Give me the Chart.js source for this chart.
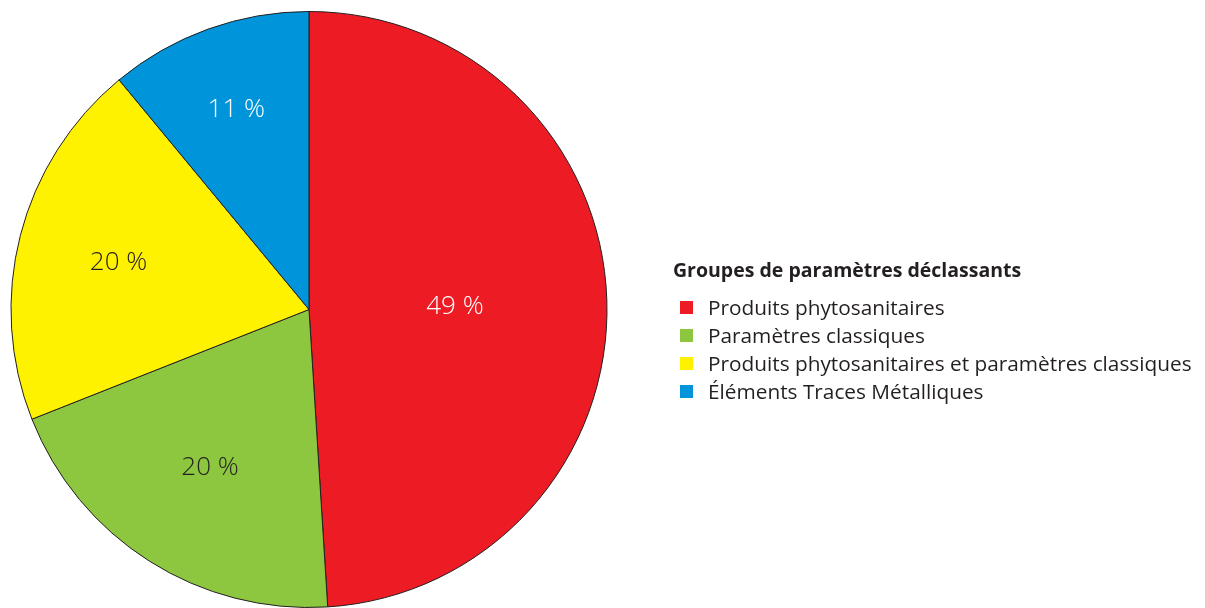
<!DOCTYPE html>
<html lang="fr">
<head>
<meta charset="utf-8">
<script src="https://cdn.jsdelivr.net/npm/chart.js@4/dist/chart.umd.min.js"></script>
<style>
  html, body { margin: 0; padding: 0; background: #fff; }
  #wrap { position: relative; width: 1205px; height: 608px; }
  #legend {
    position: absolute; left: 673px; top: 257px;
    font-family: "Open Sans", "Noto Sans", sans-serif; color: #231f20;
  }
  #legend .title { font-weight: bold; font-size: 19.5px; line-height: 26px; margin-bottom: 10px; }
  #legend ul { list-style: none; margin: 0; padding: 0 0 0 7px; }
  #legend li { font-size: 20.8px; line-height: 28px; display: flex; align-items: center; }
  #legend li span.box { width: 13px; height: 13px; margin-right: 15px; display: inline-block; }
</style>
</head>
<body>
<div id="wrap">
  <canvas id="pieChart" width="1205" height="608"></canvas>
  <div id="legend"></div>
</div>
<script>
// Groupes de paramètres déclassants - share of stations (%)
const groupLabels = [
  'Produits phytosanitaires',
  'Paramètres classiques',
  'Produits phytosanitaires et paramètres classiques',
  'Éléments Traces Métalliques'
];
const groupShares = [49, 20, 20, 11];

const sliceColors = ['#ed1c24', '#8dc63f', '#fff200', '#0095da'];
const labelColors = ['#ffffff', '#231f20', '#231f20', '#ffffff'];
// how far out along the radius each percentage sits
const labelRadius = [0.49, 0.62, 0.66, 0.72];

// percentage text inside each slice
const sliceLabels = {
  id: 'sliceLabels',
  afterDatasetsDraw(chart) {
    const ctx = chart.ctx;
    const meta = chart.getDatasetMeta(0);
    ctx.save();
    ctx.font = '300 26px "Open Sans", "Noto Sans", sans-serif';
    ctx.textAlign = 'center';
    ctx.textBaseline = 'middle';
    meta.data.forEach((arc, i) => {
      const p = arc.getProps(['x', 'y', 'startAngle', 'endAngle', 'outerRadius'], true);
      const mid = (p.startAngle + p.endAngle) / 2;
      const r = p.outerRadius * labelRadius[i];
      ctx.fillStyle = labelColors[i];
      ctx.fillText(groupShares[i] + ' %', p.x + Math.cos(mid) * r, p.y + Math.sin(mid) * r + 2);
    });
    ctx.restore();
  }
};

const ctxPie = document.getElementById('pieChart').getContext('2d');
const pieChart = new Chart(ctxPie, {
  type: 'pie',
  data: {
    labels: groupLabels,
    datasets: [{
      data: groupShares,
      backgroundColor: sliceColors,
      borderColor: '#231f20',
      borderWidth: 1
    }]
  },
  options: {
    responsive: false,
    animation: false,
    layout: { padding: { left: 10, top: 11, right: 597, bottom: -2 } },
    plugins: {
      legend: { display: false },
      tooltip: { enabled: false }
    }
  },
  plugins: [sliceLabels]
});

// legend built from the chart data
const legendEl = document.getElementById('legend');
let html = '<div class="title">Groupes de paramètres déclassants</div><ul>';
groupLabels.forEach((lab, i) => {
  html += '<li><span class="box" style="background:' + sliceColors[i] + '"></span>' + lab + '</li>';
});
legendEl.innerHTML = html + '</ul>';
</script>
</body>
</html>
